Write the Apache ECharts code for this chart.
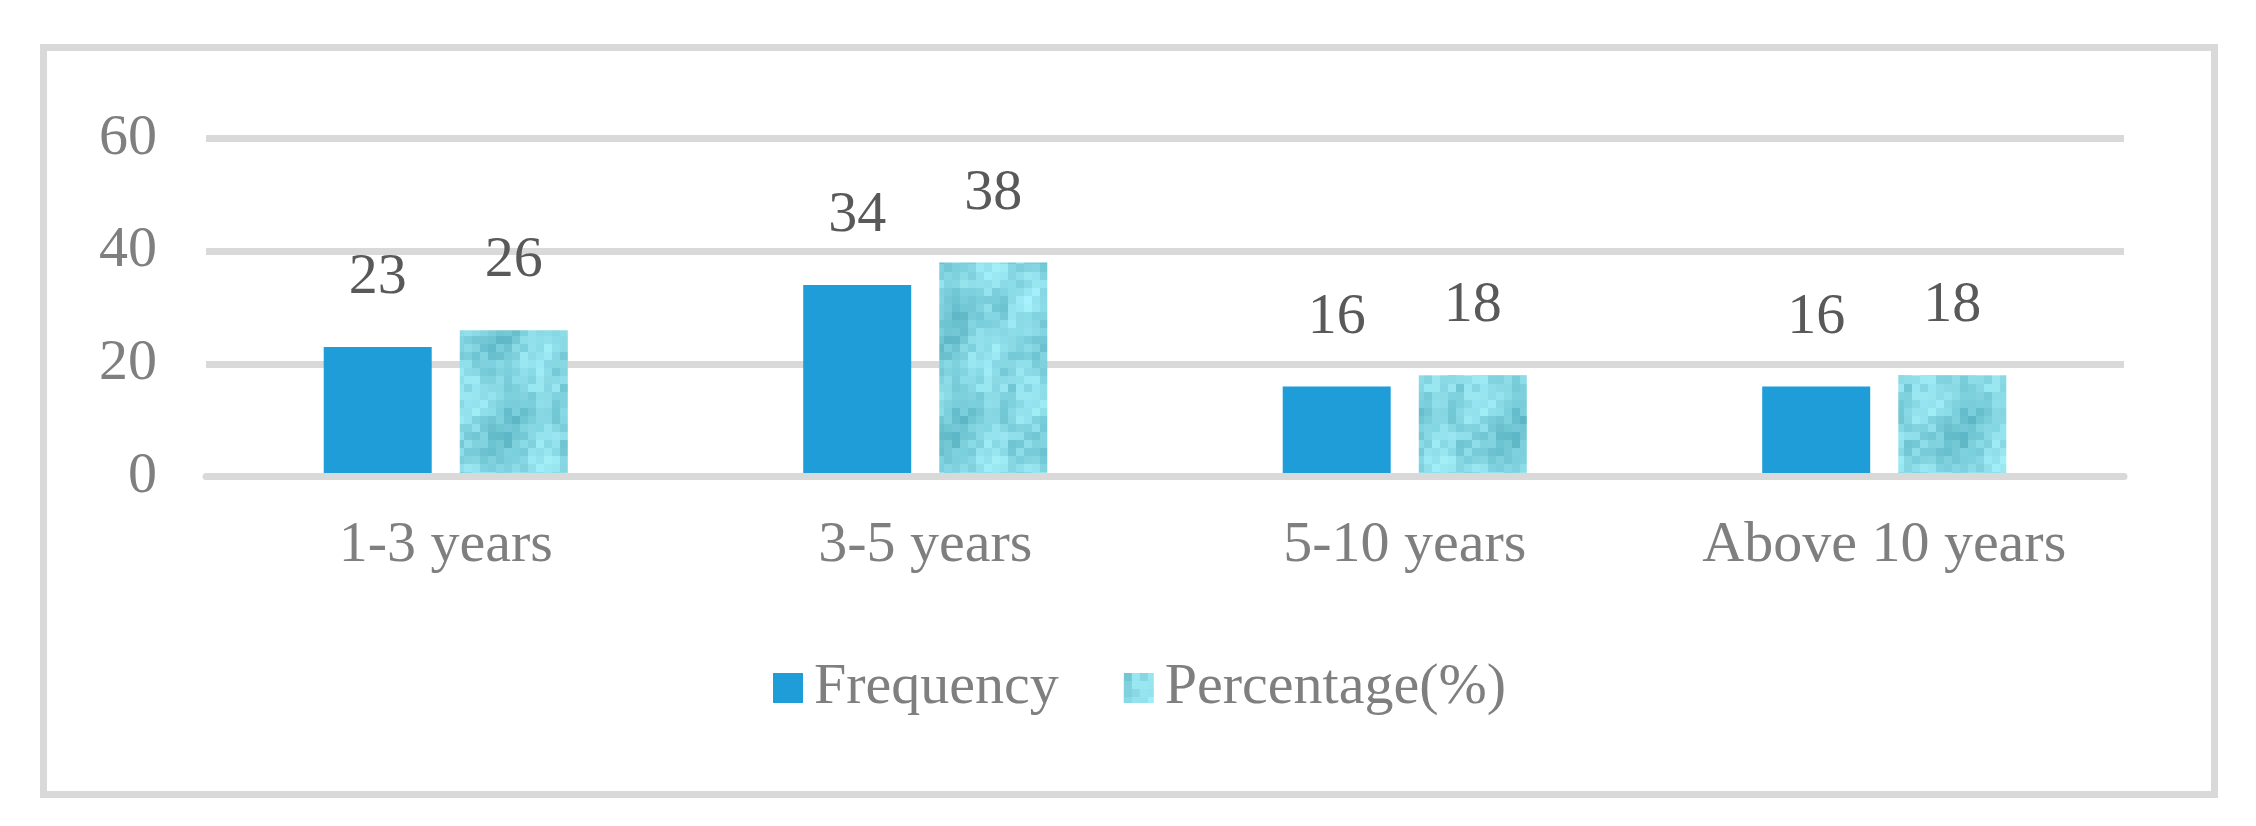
<!DOCTYPE html>
<html>
<head>
<meta charset="utf-8">
<script src="https://cdn.jsdelivr.net/npm/echarts@6/dist/echarts.min.js"></script>
<style>html,body{margin:0;padding:0;background:#fff;}#c{width:2256px;height:826px;}</style>
</head>
<body>
<div id="c"></div>
<script>
const categories = ['1-3 years', '3-5 years', '5-10 years', 'Above 10 years'];
const frequency = [23, 34, 16, 16];
const percentage = [26, 38, 18, 18];
const seriesNames = ['Frequency', 'Percentage(%)'];
const yTicks = { min: 0, max: 60, interval: 20 };

// deterministic pixelated water-like texture for the percentage bars
function makeTexture() {
  const bs = 8, nx = 14, ny = 24;
  const cv = document.createElement('canvas');
  cv.width = bs * nx; cv.height = bs * ny;
  const ctx = cv.getContext('2d');
  const dark = [86, 176, 192], light = [172, 246, 255];
  function h(i, j) { const s = Math.sin(i * 12.9898 + j * 78.233) * 43758.5453; return s - Math.floor(s); }
  for (let j = 0; j < ny; j++) {
    for (let i = 0; i < nx; i++) {
      const wave = 0.5 + 0.45 * Math.sin(i * 0.45 + j * 0.3) * Math.cos(j * 0.26 - i * 0.2);
      let t = 0.65 * wave + 0.35 * h(i, j);
      t = Math.min(1, Math.max(0, t));
      const c = dark.map((d, k) => Math.round(d + (light[k] - d) * t));
      ctx.fillStyle = 'rgb(' + c.join(',') + ')';
      ctx.fillRect(i * bs, j * bs, bs, bs);
    }
  }
  return cv;
}
const tex = makeTexture();

const FONT = '"Liberation Serif", "Times New Roman", serif';
const chart = echarts.init(document.getElementById('c'), null, { renderer: 'canvas' });
chart.setOption({
  animation: false,
  backgroundColor: '#ffffff',
  graphic: [{
    type: 'rect', z: -1,
    shape: { x: 43.5, y: 47.5, width: 2171, height: 747 },
    style: { fill: '#ffffff', stroke: '#d9d9d9', lineWidth: 7 }
  }],
  grid: { left: 206, right: 132, top: 138.5, bottom: 349.3, containLabel: false },
  legend: {
    left: 768, top: 654, padding: 5,
    itemWidth: 30, itemHeight: 30, itemGap: 65,
    icon: 'rect',
    textStyle: { fontFamily: FONT, fontSize: 58, color: '#7f7f7f', lineHeight: 58, padding: [0, 0, 0, 6] },
    data: seriesNames
  },
  xAxis: {
    type: 'category', data: categories, z: 3,
    axisLine: { show: true, lineStyle: { color: '#d9d9d9', width: 7 } },
    axisTick: { show: false },
    axisLabel: { fontFamily: FONT, fontSize: 58, lineHeight: 58, color: '#7f7f7f', margin: 40 }
  },
  yAxis: {
    type: 'value', min: yTicks.min, max: yTicks.max, interval: yTicks.interval,
    axisLine: { show: false }, axisTick: { show: false },
    splitLine: { lineStyle: { color: '#d9d9d9', width: 7 } },
    axisLabel: { fontFamily: FONT, fontSize: 58, lineHeight: 58, color: '#7f7f7f', margin: 49 }
  },
  series: [
    {
      name: seriesNames[0], type: 'bar', data: frequency, barWidth: 108, barGap: '26%',
      itemStyle: { color: '#1e9dd8' },
      label: { show: true, position: 'top', distance: 40, fontFamily: FONT, fontSize: 58, lineHeight: 58, color: '#595959' }
    },
    {
      name: seriesNames[1], type: 'bar', data: percentage, barWidth: 108, barGap: '26%',
      itemStyle: { color: { image: tex, repeat: 'repeat' } },
      label: { show: true, position: 'top', distance: 40, fontFamily: FONT, fontSize: 58, lineHeight: 58, color: '#595959' }
    }
  ]
});
</script>
</body>
</html>
